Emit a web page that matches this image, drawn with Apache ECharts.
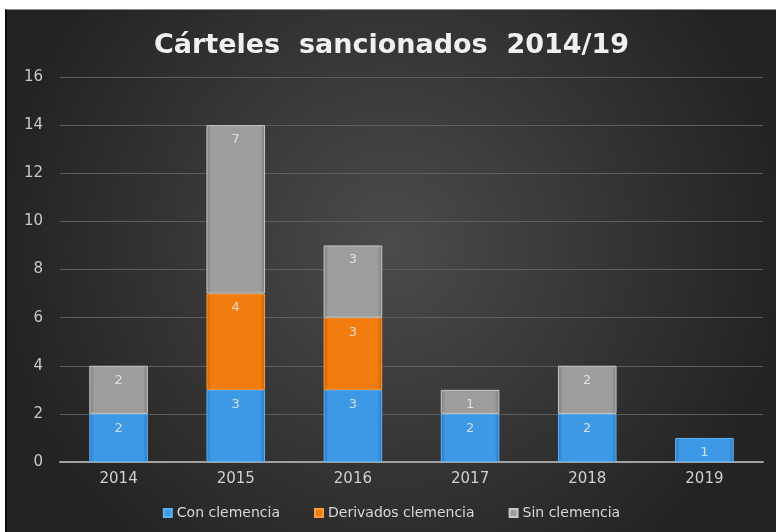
<!DOCTYPE html>
<html><head><meta charset="utf-8">
<script src="https://cdn.jsdelivr.net/npm/echarts@6/dist/echarts.min.js"></script>
<style>
html,body{margin:0;padding:0;background:#fff;width:776px;height:532px;overflow:hidden;}
#c{position:absolute;left:5px;top:9px;width:769px;height:523px;border-left:2px solid #0c0c0c;border-top:1px solid #888;}
</style></head><body><div id="c"></div>
<script>
const categories = ['2014','2015','2016','2017','2018','2019'];
const conClemencia = [2,3,3,2,2,1];
const derivadosClemencia = [0,4,3,0,0,0];
const sinClemencia = [2,7,3,1,2,0];
const yTicks = {min:0,max:16,interval:2};

const chart = echarts.init(document.getElementById('c'));
function grad(edge, mid){
  return new echarts.graphic.LinearGradient(0,0,1,0,[
    {offset:0,color:edge},{offset:0.08,color:mid},{offset:0.92,color:mid},{offset:1,color:edge}]);
}
function ser(name,data,edge,mid,border){
  return {
    name, type:'bar', stack:'t', barWidth:'50%',
    data: data.map(v=>v===0?null:v),
    itemStyle:{color:grad(edge,mid),borderColor:border,borderWidth:1},
    label:{show:true,position:'insideTop',distance:8,color:'rgba(235,235,235,0.85)',fontSize:13,fontFamily:'DejaVu Sans'},
    emphasis:{disabled:true}
  };
}
chart.setOption({
  backgroundColor:{type:'radial',x:0.5,y:0.45,r:0.75,colorStops:[{offset:0,color:'#4b4b4b'},{offset:1,color:'#232323'}]},
  animation:false,
  title:{text:'Cárteles  sancionados  2014/19',left:'center',top:17,
    textStyle:{color:'#f0f0f0',fontSize:27,fontWeight:'bold',fontFamily:'DejaVu Sans'}},
  grid:{left:53,right:13,top:67,bottom:71},
  legend:{bottom:8,left:'center',itemWidth:8,itemHeight:8,itemGap:34,icon:'rect',
    textStyle:{color:'#d8d8d8',fontSize:14,fontFamily:'DejaVu Sans'},
    data:['Con clemencia','Derivados clemencia','Sin clemencia']},
  xAxis:{type:'category',data:categories,
    axisLine:{lineStyle:{color:'#a0a0a0',width:2}},axisTick:{show:false},
    axisLabel:{color:'#d0d0d0',fontSize:15,margin:10,fontFamily:'DejaVu Sans'}},
  yAxis:{type:'value',min:yTicks.min,max:yTicks.max,interval:yTicks.interval,
    axisLine:{show:false},axisTick:{show:false},
    splitLine:{lineStyle:{color:'#5e5e5e',width:1}},
    axisLabel:{color:'#c8c8c8',fontSize:15,margin:17,fontFamily:'DejaVu Sans'}},
  series:[
    ser('Con clemencia',conClemencia,'#2a78c2','#3d98e6','#5fb2f0'),
    ser('Derivados clemencia',derivadosClemencia,'#c85f05','#f27c0e','#ff9a3a'),
    ser('Sin clemencia',sinClemencia,'#7c7c7c','#9d9d9d','#c8c8c8')
  ]
});
</script></body></html>
